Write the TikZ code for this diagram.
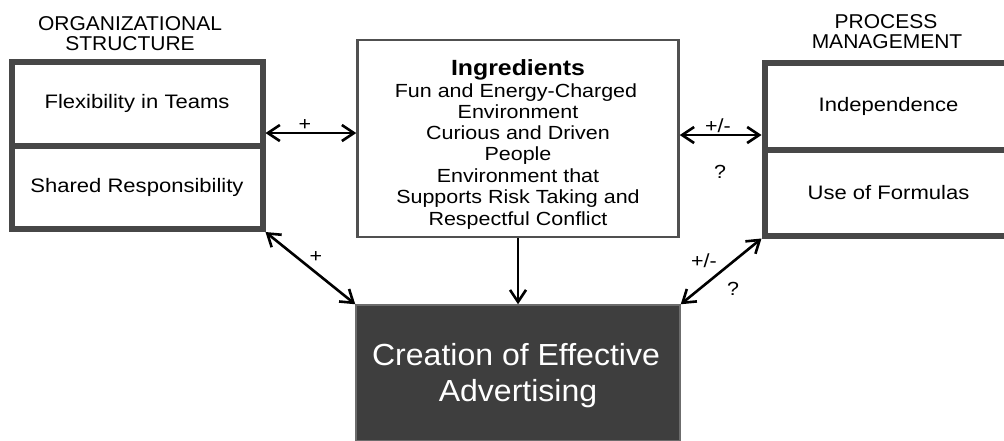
\documentclass[tikz,border=0pt]{standalone}
\usepackage{fontspec}
\setmainfont{Liberation Sans}
\newfontfamily\bodyf{Liberation Sans}[FakeStretch=1.13]
\newfontfamily\headf{Liberation Sans}[FakeStretch=1.05]
\usetikzlibrary{arrows.meta,calc}
\definecolor{boxgray}{HTML}{474747}
\definecolor{darkfill}{HTML}{3E3E3E}
\definecolor{ingrgray}{HTML}{505050}
\tikzset{
  grpbox/.style={draw=boxgray, line width=6pt, fill=white, rectangle, inner sep=0pt,
    font=\bodyf\fontsize{19.5}{22}\selectfont},
  headtxt/.style={font=\headf\fontsize{20}{20}\selectfont, inner sep=0pt, anchor=base},
  linetxt/.style={font=\bodyf\fontsize{19}{21}\selectfont, inner sep=0pt, anchor=base},
  lbl/.style={font=\bodyf\fontsize{19}{21}\selectfont, inner sep=0pt},
  bigtxt/.style={font=\headf\fontsize{30.5}{36}\selectfont, text=white, inner sep=0pt, anchor=base},
  tip/.tip={Straight Barb[length=12pt,width=16pt]},
  arr/.style={line width=2.6pt, draw=black, tip-tip},
  arrone/.style={line width=2.6pt, draw=black, -tip}
}
\begin{document}
\begin{tikzpicture}[x=1pt,y=-1pt]
\clip (0,0) rectangle (1004,440);
\fill[white] (0,0) rectangle (1004,440);

% group headings
\node[headtxt] (h1a) at (130,30) {ORGANIZATIONAL};
\node[headtxt] (h1b) at (130,50) {STRUCTURE};
\node[headtxt] (h2a) at (886,28) {PROCESS};
\node[headtxt] (h2b) at (887,48) {MANAGEMENT};

% left group
\node[grpbox, minimum width=251pt, minimum height=83.5pt] (flex) at (137,103.75) {Flexibility in Teams};
\node[grpbox, minimum width=251pt, minimum height=83.5pt] (shared) at (137,187.25) {Shared Responsibility};

% right group
\node[grpbox, minimum width=248pt, minimum height=87pt] (indep) at (888.5,106) {Independence};
\node[grpbox, minimum width=248pt, minimum height=86pt] (formulas) at (888.5,192.5) {Use of Formulas};

% ingredients box
\node[draw=ingrgray, line width=2.5pt, fill=white, minimum width=321pt, minimum height=197pt, inner sep=0pt] (ingr) at (518,138.5) {};
\node[font=\bodyf\bfseries\fontsize{22}{22}\selectfont, inner sep=0pt, anchor=base] (t0) at (518,75) {Ingredients};
\node[linetxt] (t1) at (516,97) {Fun and Energy-Charged};
\node[linetxt] (t2) at (518,118) {Environment};
\node[linetxt] (t3) at (518,139.5) {Curious and Driven};
\node[linetxt] (t4) at (518,160.5) {People};
\node[linetxt] (t5) at (518,182) {Environment that};
\node[linetxt] (t6) at (518,203.5) {Supports Risk Taking and};
\node[linetxt] (t7) at (518,225) {Respectful Conflict};

% outcome box
\node[draw=boxgray!80, line width=1.5pt, fill=darkfill, minimum width=324pt, minimum height=136pt, inner sep=0pt] (create) at (518,373) {};
\node[bigtxt] (c1) at (516,365) {Creation of Effective};
\node[bigtxt] (c2) at (518,401) {Advertising};

% connectors
\coordinate (ya) at (0,133);
\coordinate (yb) at (0,135);
\draw[arr] (flex.east |- ya) -- (ingr.west |- ya);
\draw[arr] (ingr.east |- yb) -- (indep.west |- yb);
\draw[arrone] (ingr.south) -- (create.north);
\draw[arr] (shared.south east) -- (create.north west);
\draw[arr] (formulas.south west) -- (create.north east);

% labels
\node[lbl] (p1) at (305,125) {+};
\node[lbl] (p2) at (718,126) {+/-};
\node[lbl] (q1) at (720,172) {?};
\node[lbl] (p3) at (316,257) {+};
\node[lbl] (p4) at (704,261) {+/-};
\node[lbl] (q2) at (733,289) {?};
\end{tikzpicture}
\end{document}
